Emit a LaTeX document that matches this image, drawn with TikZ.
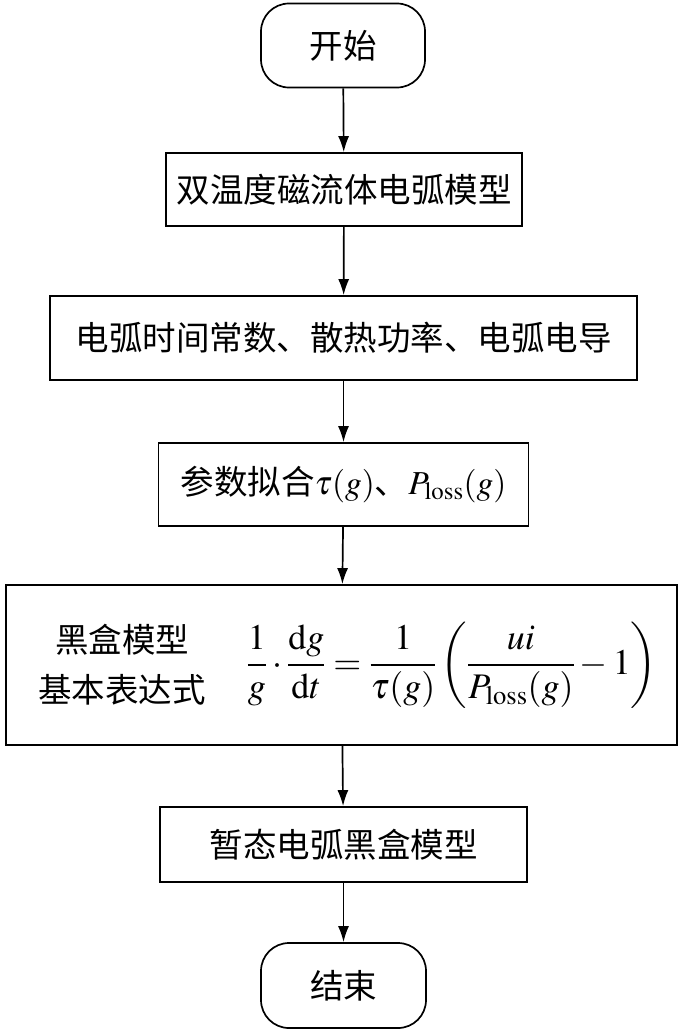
\documentclass[tikz,border=0pt]{standalone}
\usepackage{mathptmx}
\usepackage{fontspec}
\setmainfont{Liberation Serif}
\newfontfamily\cjk{Noto Sans CJK SC}
\usetikzlibrary{arrows.meta}
\tikzset{
  box/.style={draw, line width=1.7pt, inner sep=0pt, font=\cjk\fontsize{33.5}{40}\selectfont, align=center},
  term/.style={box, rounded corners=28pt},
  flow/.style={line width=1.7pt, -{Latex[length=16pt,width=11pt]}}
}
\begin{document}
\begin{tikzpicture}[x=1pt,y=-1pt]
\useasboundingbox (0,0) rectangle (683,1033);
\node[term, minimum width=164pt, minimum height=84pt] (s) at (343,45.5) {开始};
\node[box, minimum width=356pt, minimum height=73pt] (b2) at (344,189.5) {双温度磁流体电弧模型};
\node[box, minimum width=587pt, minimum height=84pt] (b3) at (343.5,338) {电弧时间常数、散热功率、电弧电导};
\node[box, minimum width=370pt, minimum height=83pt] (b4) at (343.5,484.5) {参数拟合$\tau(g)$、$P_{\mathrm{loss}}(g)$};
\node[box, minimum width=671pt, minimum height=160pt] (b5) at (341.5,665) {};
\node[font=\cjk\fontsize{33.5}{50}\selectfont, align=center] (lab) at (122,665) {黑盒模型\\基本表达式};
\node[font=\fontsize{36}{44}\selectfont] (eq) at (452,665) {$\displaystyle \frac{1}{g}\cdot\frac{\mathrm{d}g}{\mathrm{d}t}=\frac{1}{\tau(g)}\left(\frac{ui}{P_{\mathrm{loss}}(g)}-1\right)$};
\node[box, minimum width=367pt, minimum height=75pt] (b6) at (343.5,844.5) {暂态电弧黑盒模型};
\node[term, minimum width=165pt, minimum height=85pt] (e) at (343.5,985.5) {结束};
\draw[flow] (s) -- (b2);
\draw[flow] (b2) -- (b3);
\draw[flow] (b3) -- (b4);
\draw[flow] (b4) -- (b5);
\draw[flow] (b5) -- (b6);
\draw[flow] (b6) -- (e);
\end{tikzpicture}
\end{document}
